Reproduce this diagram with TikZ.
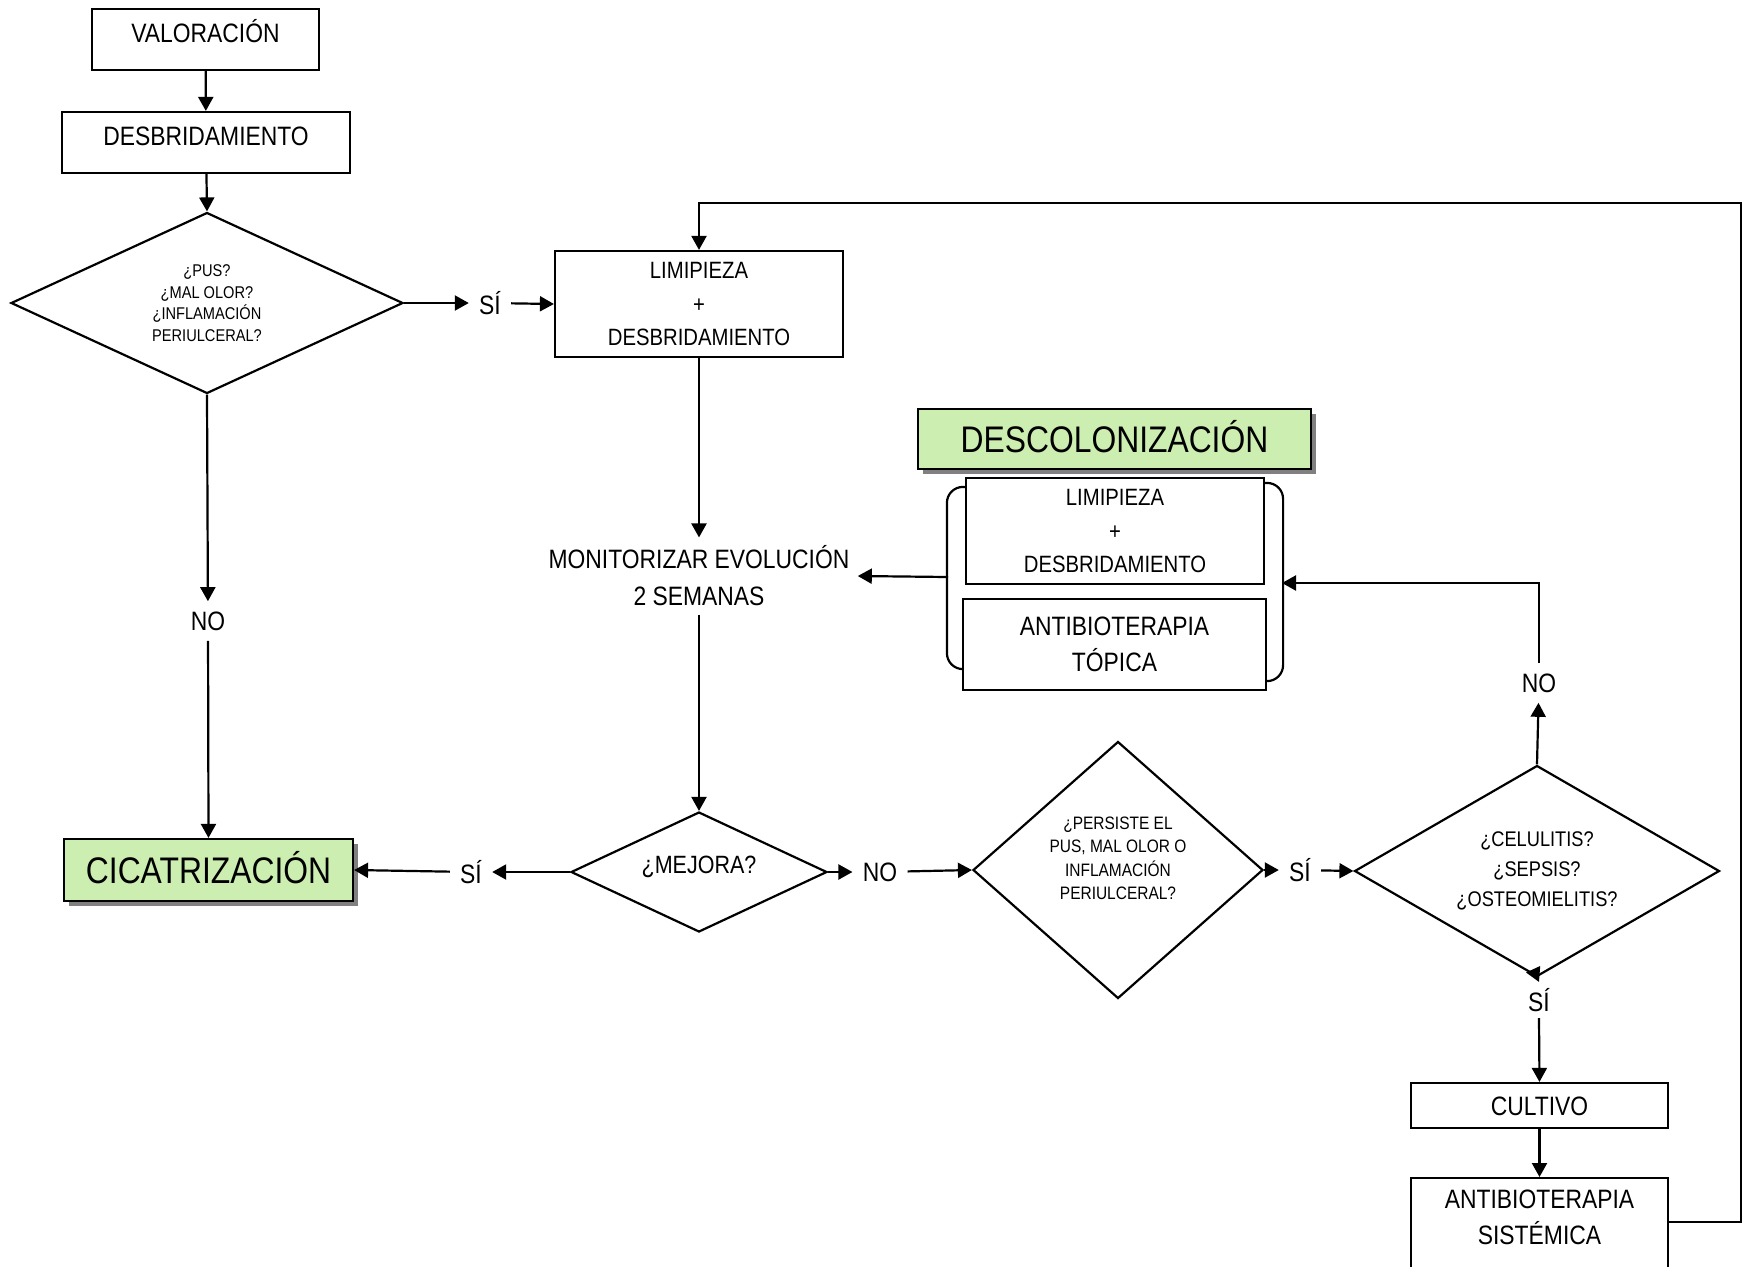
\documentclass[tikz,border=0pt]{standalone}
\usepackage{fontspec}
\setmainfont{Liberation Sans}[FakeStretch=0.86]
\usepackage{xcolor}
\usetikzlibrary{shapes.geometric, arrows.meta, shadows}
\definecolor{healbg}{RGB}{204,238,176}
\definecolor{shadowgray}{RGB}{128,128,128}

\begin{document}
\begin{tikzpicture}[x=0.5pt, y=-0.5pt,
    box/.style={rectangle, draw, line width=1.1pt, align=center, inner sep=2pt, font=\fontsize{13.3pt}{18pt}\selectfont},
    smallbox/.style={box, font=\fontsize{11.8pt}{16.7pt}\selectfont},
    titlebox/.style={box, fill=healbg, font=\fontsize{18.5pt}{22pt}\selectfont, text height=17pt, drop shadow={shadow xshift=2.5pt, shadow yshift=-2.5pt, fill=shadowgray, opacity=1}},
    decision/.style={diamond, draw, line width=1.1pt, align=center, inner sep=0pt},
    answer/.style={inner sep=5pt, font=\fontsize{13.3pt}{16pt}\selectfont},
    arrow/.style={-{Triangle[length=7pt, width=7.5pt]}, line width=1.1pt}
]
\useasboundingbox (0,0) rectangle (1742,1266);

% main column
\node[box, minimum width=113.5pt, minimum height=30.5pt, text height=12.5pt, text depth=10pt] (val) at (205.5,39.5) {VALORACIÓN};
\node[box, minimum width=144pt, minimum height=30.5pt, text height=12.5pt, text depth=10pt] (desb) at (206,142.5) {DESBRIDAMIENTO};
\node[decision, aspect=2.17, minimum width=196pt, minimum height=90.5pt, font=\fontsize{8.5pt}{10.85pt}\selectfont] (pus) at (207,303) {¿PUS?\\¿MAL OLOR?\\¿INFLAMACIÓN\\PERIULCERAL?};
\node[answer] (siT) at (490,303) {SÍ};
\node[answer] (noL) at (208,621) {NO};
\node[titlebox, minimum width=144.5pt, minimum height=31pt, text depth=4pt] (cic) at (208.5,870) {CICATRIZACIÓN};

\node[smallbox, minimum width=144pt, minimum height=53pt] (limp) at (699,304) {LIMIPIEZA\\+\\DESBRIDAMIENTO};
\node[align=center, inner sep=4pt, font=\fontsize{13.3pt}{18.5pt}\selectfont] (monit) at (699,576) {MONITORIZAR EVOLUCIÓN\\2 SEMANAS};
\node[decision, aspect=2.13, minimum width=128pt, minimum height=60pt, font=\fontsize{12.5pt}{15pt}\selectfont, text depth=7pt] (mejora) at (699,872) {¿MEJORA?};
\node[answer] (siL) at (471,872) {SÍ};
\node[answer] (noM) at (880,872) {NO};

% descolonizacion
\node[titlebox, minimum width=196.5pt, minimum height=30pt, text depth=3.5pt] (desc) at (1114.5,439) {DESCOLONIZACIÓN};
\node[smallbox, minimum width=149pt, minimum height=53pt] (dlimp) at (1115,531) {LIMIPIEZA\\+\\DESBRIDAMIENTO};
\node[box, minimum width=151.5pt, minimum height=45.5pt] (dtop) at (1114.5,644.5) {ANTIBIOTERAPIA\\TÓPICA};
\draw[line width=1.1pt, rounded corners=8pt] ([yshift=-5pt]dlimp.north west) -- ++(-9pt,0) |- ([yshift=11pt]dtop.south west);
\draw[line width=1.1pt, rounded corners=8pt] ([yshift=-3pt]dlimp.north east) -- ++(9pt,0) |- ([yshift=5pt]dtop.south east);
\coordinate (brackL) at (948,577);
\coordinate (brackR) at (1282,583);

% right side
\node[decision, aspect=1.13, minimum width=145pt, minimum height=128.5pt, font=\fontsize{9pt}{11.75pt}\selectfont, text depth=12pt] (persist) at (1118,870) {¿PERSISTE EL\\PUS, MAL OLOR O\\INFLAMACIÓN\\PERIULCERAL?};
\node[answer] (siP) at (1300,870) {SÍ};
\node[decision, aspect=1.73, minimum width=182.5pt, minimum height=105.5pt, font=\fontsize{10.6pt}{15pt}\selectfont] (celul) at (1537,871) {¿CELULITIS?\\¿SEPSIS?\\¿OSTEOMIELITIS?};
\node[answer] (noC) at (1539,683) {NO};
\node[answer, inner sep=3pt] (siC) at (1539,1000) {SÍ};
\node[box, minimum width=128.5pt, minimum height=22.5pt, text height=12.5pt, text depth=3pt] (cult) at (1539.5,1105.5) {CULTIVO};
\node[box, anchor=north, minimum width=128.5pt, inner xsep=2pt, inner ysep=6pt, text depth=60pt] (sist) at (1539.5,1177) {ANTIBIOTERAPIA\\SISTÉMICA};
\coordinate (loopTop) at (1741,203);

\draw[arrow] (val) -- (desb);
\draw[arrow] (desb) -- (pus.north);
\draw[arrow] (pus.east) -- (siT);
\draw[arrow] (siT) -- (limp.west);
\draw[arrow] (pus.south) -- (noL);
\draw[arrow] (noL) -- (cic.north);
\draw[arrow] (limp.south) -- (monit.north);
\draw[arrow] (monit.south) -- (mejora.north);
\draw[arrow] (mejora.west) -- (siL);
\draw[arrow] (siL) -- (cic.east);
\draw[arrow] (mejora.east) -- (noM);
\draw[arrow] (noM) -- (persist.west);
\draw[arrow] (persist.east) -- (siP);
\draw[arrow] (siP) -- (celul.west);
\draw[arrow] (celul.north) -- (noC);
\draw[arrow] (noC.north) |- (brackR);
\draw[arrow] (brackL) -- (monit.east);
\draw[arrow] (celul.south) -- (siC.north);
\draw[arrow] (siC.south) -- (cult.north);
\draw[arrow] (cult.south) -- (sist.north);
\draw[arrow] ([yshift=-22.5pt]sist.north east) -| (loopTop) -| (limp.north);

\end{tikzpicture}
\end{document}
